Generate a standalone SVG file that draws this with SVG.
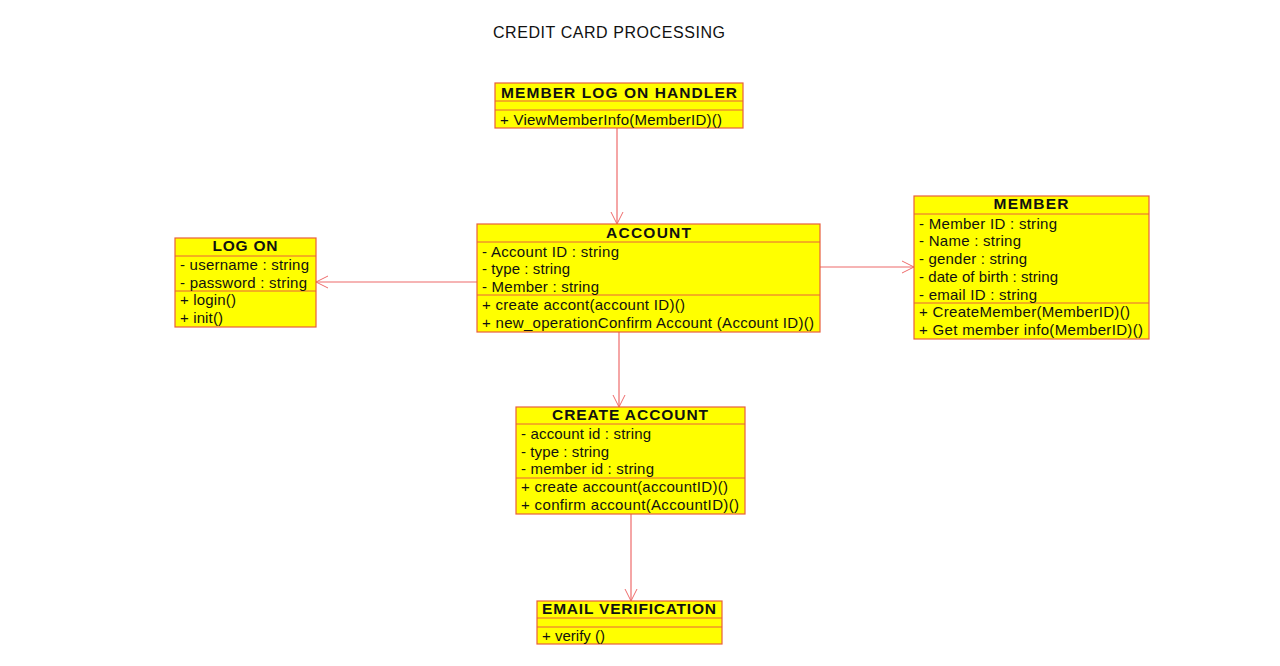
<svg xmlns="http://www.w3.org/2000/svg" width="1280" height="666" viewBox="0 0 1280 666">
<defs>
<marker id="open" markerWidth="14" markerHeight="14" refX="12" refY="7" orient="auto" markerUnits="userSpaceOnUse">
<path d="M0,1 L12,7 L0,13" fill="none" stroke="#ee6b6b" stroke-width="1"/>
</marker>
</defs>
<style>
.box{fill:#ffff00;stroke:#e8603c;stroke-width:1.2}
.div{stroke:#e8603c;stroke-width:1}
.t{font-family:"Liberation Sans",Arial,sans-serif;font-size:15px;fill:#111}
.h{font-family:"Liberation Sans",Arial,sans-serif;font-size:15.5px;font-weight:bold;fill:#111;text-anchor:middle}
.c{stroke:#ee6b6b;stroke-width:1.2;fill:none}
</style>
<rect width="1280" height="666" fill="#ffffff"/>
<text x="493" y="38" font-family="Liberation Sans, Arial, sans-serif" font-size="16" fill="#111" textLength="232" lengthAdjust="spacing">CREDIT CARD PROCESSING</text>

<g id="connectors">
<line class="c" x1="617" y1="128" x2="617" y2="224" marker-end="url(#open)"/>
<line class="c" x1="477" y1="282" x2="316" y2="282" marker-end="url(#open)"/>
<line class="c" x1="820" y1="267" x2="914" y2="267" marker-end="url(#open)"/>
<line class="c" x1="619" y1="332" x2="619" y2="407" marker-end="url(#open)"/>
<line class="c" x1="631" y1="514" x2="631" y2="601" marker-end="url(#open)"/>
</g>

<g id="member-log-on-handler">
<rect class="box" x="495" y="83" width="248" height="45"/>
<line class="div" x1="495" y1="101" x2="743" y2="101"/>
<line class="div" x1="495" y1="110" x2="743" y2="110"/>
<text class="h" x="619" y="98" textLength="236" lengthAdjust="spacing">MEMBER LOG ON HANDLER</text>
<text class="t" x="500" y="125" textLength="222" lengthAdjust="spacing">+ ViewMemberInfo(MemberID)()</text>
</g>

<g id="account">
<rect class="box" x="477" y="224" width="343" height="108"/>
<line class="div" x1="477" y1="242" x2="820" y2="242"/>
<line class="div" x1="477" y1="295" x2="820" y2="295"/>
<text class="h" x="648.5" y="238" textLength="85" lengthAdjust="spacing">ACCOUNT</text>
<text class="t" x="482" y="257" textLength="137" lengthAdjust="spacing">- Account ID : string</text>
<text class="t" x="482" y="274" textLength="88" lengthAdjust="spacing">- type : string</text>
<text class="t" x="482" y="292" textLength="117" lengthAdjust="spacing">- Member : string</text>
<text class="t" x="482" y="310" textLength="203" lengthAdjust="spacing">+ create accont(account ID)()</text>
<text class="t" x="482" y="328" textLength="332" lengthAdjust="spacing">+ new_operationConfirm Account (Account ID)()</text>
</g>

<g id="log-on">
<rect class="box" x="175" y="238" width="141" height="89"/>
<line class="div" x1="175" y1="256" x2="316" y2="256"/>
<line class="div" x1="175" y1="291" x2="316" y2="291"/>
<text class="h" x="245" y="251" textLength="65" lengthAdjust="spacing">LOG ON</text>
<text class="t" x="180" y="270" textLength="129" lengthAdjust="spacing">- username : string</text>
<text class="t" x="180" y="288" textLength="127" lengthAdjust="spacing">- password : string</text>
<text class="t" x="180" y="305" textLength="56" lengthAdjust="spacing">+ login()</text>
<text class="t" x="180" y="323" textLength="43" lengthAdjust="spacing">+ init()</text>
</g>

<g id="member">
<rect class="box" x="914" y="196" width="235" height="143"/>
<line class="div" x1="914" y1="214" x2="1149" y2="214"/>
<line class="div" x1="914" y1="303" x2="1149" y2="303"/>
<text class="h" x="1031" y="209" textLength="75" lengthAdjust="spacing">MEMBER</text>
<text class="t" x="919" y="229" textLength="138" lengthAdjust="spacing">- Member ID : string</text>
<text class="t" x="919" y="246" textLength="102" lengthAdjust="spacing">- Name : string</text>
<text class="t" x="919" y="264" textLength="108" lengthAdjust="spacing">- gender : string</text>
<text class="t" x="919" y="282" textLength="139" lengthAdjust="spacing">- date of birth : string</text>
<text class="t" x="919" y="300" textLength="118" lengthAdjust="spacing">- email ID : string</text>
<text class="t" x="919" y="317" textLength="211" lengthAdjust="spacing">+ CreateMember(MemberID)()</text>
<text class="t" x="919" y="335" textLength="224" lengthAdjust="spacing">+ Get member info(MemberID)()</text>
</g>

<g id="create-account">
<rect class="box" x="516" y="407" width="229" height="107"/>
<line class="div" x1="516" y1="424" x2="745" y2="424"/>
<line class="div" x1="516" y1="478" x2="745" y2="478"/>
<text class="h" x="630" y="420" textLength="156" lengthAdjust="spacing">CREATE ACCOUNT</text>
<text class="t" x="521" y="439" textLength="130" lengthAdjust="spacing">- account id : string</text>
<text class="t" x="521" y="457" textLength="88" lengthAdjust="spacing">- type : string</text>
<text class="t" x="521" y="474" textLength="133" lengthAdjust="spacing">- member id : string</text>
<text class="t" x="521" y="492" textLength="207" lengthAdjust="spacing">+ create account(accountID)()</text>
<text class="t" x="521" y="510" textLength="218" lengthAdjust="spacing">+ confirm account(AccountID)()</text>
</g>

<g id="email-verification">
<rect class="box" x="537" y="601" width="185" height="43"/>
<line class="div" x1="537" y1="618" x2="722" y2="618"/>
<line class="div" x1="537" y1="627" x2="722" y2="627"/>
<text class="h" x="629" y="614" textLength="174" lengthAdjust="spacing">EMAIL VERIFICATION</text>
<text class="t" x="542" y="641" textLength="63" lengthAdjust="spacing">+ verify ()</text>
</g>
</svg>
